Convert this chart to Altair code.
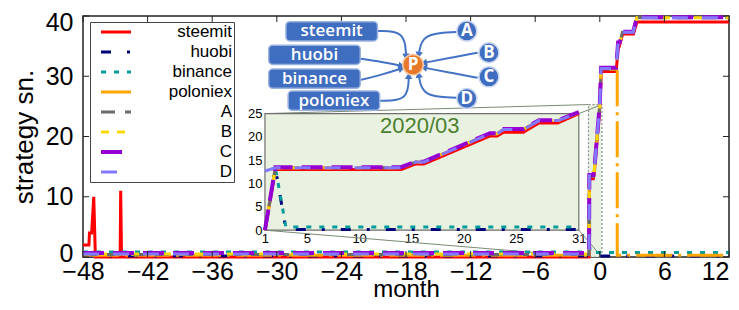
import math
import altair as alt
import pandas as pd

# ---------------- layout constants ----------------
W, H = 646, 241
X_DOMAIN = [-48, 12]
Y_DOMAIN = [0, 40]
X_TICKS = [-48, -42, -36, -30, -24, -18, -12, -6, 0, 6, 12]
Y_TICKS = [0, 10, 20, 30, 40]

SERIES = ["steemit", "huobi", "binance", "poloniex", "A", "B", "C", "D"]
COLORS = ["#ff0000", "#00007f", "#009c9c", "#ffa500", "#6b6b6b", "#ffd700", "#9400d3", "#8478ff"]
DASHES = [[1, 0], [10, 16, 3, 16], [5, 8], [36, 6, 3, 6], [14, 10], [8, 8], [21, 9], [16, 14]]
WIDTHS = [3, 3, 3, 3, 3, 3, 4, 3]

# ---------------- main series (month, strategy sn.) ----------------
STEEMIT_M = [-48, -47.45, -47.4, -47.2, -47.0, -46.85, -44.55, -44.5, -44.42, -1.0, -0.96, -0.6, -0.5, 0.0, 0.14, 1.52, 1.72, 1.82, 2.12, 3.12, 3.45, 12]
STEEMIT_V = [2, 2, 4, 4, 10, 0, 0, 11, 0, 0, 13.0, 13.0, 14.2, 25.0, 30.8, 30.8, 35.0, 35.0, 37.0, 37.0, 39.0, 39.0]
HUOBI_M = [-48, -1.0, -0.97, -0.94, 12]
HUOBI_V = [0.15, 0.15, 13.3, 0.15, 0.15]
BINANCE_M = [-48, -1.0, -0.97, -0.94, 12]
BINANCE_V = [0.85, 0.85, 13.3, 0.75, 0.75]
POLONIEX_M = [-48, -1.0, -0.97, -0.58, -0.5, 0.0, 0.12, 1.62, 1.62, 12]
POLONIEX_V = [0.3, 0.3, 13.4, 13.4, 14.6, 25.3, 31.2, 31.2, 0.3, 0.3]
A_M = [-48, -1.0, -0.97, -0.58, -0.5, 0.0, 0.12, 1.52, 1.7, 1.85, 2.1, 3.1, 3.45, 12]
A_V = [0.4, 0.4, 13.4, 13.4, 14.6, 25.3, 31.2, 31.2, 35.5, 35.5, 37.3, 37.3, 39.7, 39.7]
B_M = [-48, -1.0, -0.97, -0.58, -0.5, 0.0, 0.12, 1.52, 1.7, 1.85, 2.1, 3.1, 3.45, 12]
B_V = [0.5, 0.5, 13.4, 13.4, 14.6, 25.3, 31.2, 31.2, 35.5, 35.5, 37.3, 37.3, 39.7, 39.7]
C_M = [-48, -1.0, -0.97, -0.58, -0.5, 0.0, 0.12, 1.52, 1.7, 1.85, 2.1, 3.1, 3.45, 12]
C_V = [0.65, 0.65, 13.6, 13.6, 14.8, 25.4, 31.4, 31.4, 35.6, 35.6, 37.4, 37.4, 39.8, 39.8]
D_M = [-48, -1.0, -0.97, -0.58, -0.5, 0.0, 0.12, 1.52, 1.7, 1.85, 2.1, 3.1, 3.45, 12]
D_V = [0.5, 0.5, 13.5, 13.5, 14.7, 25.3, 31.3, 31.3, 35.5, 35.5, 37.3, 37.3, 39.7, 39.7]

MAIN = {
    "steemit": (STEEMIT_M, STEEMIT_V), "huobi": (HUOBI_M, HUOBI_V),
    "binance": (BINANCE_M, BINANCE_V), "poloniex": (POLONIEX_M, POLONIEX_V),
    "A": (A_M, A_V), "B": (B_M, B_V), "C": (C_M, C_V), "D": (D_M, D_V),
}

# ---------------- inset series (day of 2020/03, strategy sn.) ----------------
INSET_DAYS = [1, 2, 14, 15.4, 16.2, 22.5, 23.2, 23.8, 25.7, 27.2, 29, 31]
IN_STEEMIT = [0, 13.0, 13.0, 14.2, 14.2, 20.2, 20.2, 21.0, 21.0, 23.0, 23.0, 25.0]
IN_POLONIEX = [0, 13.4, 13.4, 14.6, 14.6, 20.7, 20.7, 21.6, 21.6, 23.5, 23.5, 25.2]
IN_A = [0, 13.4, 13.4, 14.6, 14.6, 20.7, 20.7, 21.6, 21.6, 23.5, 23.5, 25.2]
IN_B = [0, 13.4, 13.4, 14.6, 14.6, 20.7, 20.7, 21.6, 21.6, 23.5, 23.5, 25.2]
IN_C = [0, 13.5, 13.5, 14.7, 14.7, 20.8, 20.8, 21.7, 21.7, 23.6, 23.6, 25.3]
IN_D = [12.7, 13.4, 13.4, 14.6, 14.6, 20.7, 20.7, 21.6, 21.6, 23.5, 23.5, 25.2]
IN_EX_DAYS = [1, 2, 3, 31]
IN_HUOBI = [0, 13.3, 0.15, 0.15]
IN_BINANCE = [0, 13.3, 0.7, 0.7]

INSET = {
    "steemit": (INSET_DAYS, IN_STEEMIT), "huobi": (IN_EX_DAYS, IN_HUOBI),
    "binance": (IN_EX_DAYS, IN_BINANCE), "poloniex": (INSET_DAYS, IN_POLONIEX),
    "A": (INSET_DAYS, IN_A), "B": (INSET_DAYS, IN_B), "C": (INSET_DAYS, IN_C), "D": (INSET_DAYS, IN_D),
}
INSET_X_DOMAIN = [1, 31]
INSET_Y_DOMAIN = [0, 25]
INSET_X_TICKS = [1, 5, 10, 15, 20, 25, 31]
INSET_Y_TICKS = [0, 5, 10, 15, 20, 25]
INSET_TITLE = "2020/03"

# inset placement (in main-axis units) and the zoomed window
INSET_M = [-31.1, -1.95]
INSET_V = [4.45, 23.8]
ZOOM_M = [-1.05, 0.2]
ZOOM_V = [0, 25.3]

# ---------------- diagram (positions in main-axis units) ----------------
BOX_LABELS = ["steemit", "huobi", "binance", "poloniex"]
BOX_M = [-24.9, -26.5, -26.5, -24.7]
BOX_V = [37.45, 33.55, 29.6, 25.95]
BOX_HALF_M, BOX_HALF_V = 4.25, 1.6
NODE_LABELS = ["A", "B", "C", "D"]
NODE_M = [-12.35, -10.3, -10.3, -12.35]
NODE_V = [37.5, 33.9, 29.9, 26.3]
HUB_LABEL, HUB_M, HUB_V = "P", -17.35, 31.9
ARROWS = [  # start, bend, end
    [(-20.6, 37.5), (-18.1, 37.5), (-18.0, 33.4)],
    [(-22.2, 32.9), (-20.25, 32.4), (-18.5, 31.75)],
    [(-22.2, 29.4), (-20.25, 30.25), (-18.5, 31.25)],
    [(-20.4, 25.95), (-17.8, 25.95), (-17.75, 29.9)],
    [(-13.3, 37.35), (-16.5, 37.1), (-16.8, 33.7)],
    [(-11.35, 33.9), (-13.9, 33.05), (-16.25, 32.25)],
    [(-11.35, 29.75), (-13.9, 30.6), (-16.25, 31.4)],
    [(-13.3, 26.45), (-16.5, 26.6), (-16.8, 30.1)],
]


def px_x(m):
    return (m - X_DOMAIN[0]) / (X_DOMAIN[1] - X_DOMAIN[0]) * W


def px_y(v):
    return H - (v - Y_DOMAIN[0]) / (Y_DOMAIN[1] - Y_DOMAIN[0]) * H


FONT = "Liberation Sans"

# ---------------- encodings ----------------
XS = alt.Scale(domain=X_DOMAIN, nice=False, zero=False)
YS = alt.Scale(domain=Y_DOMAIN, nice=False, zero=False)
XAXIS = alt.Axis(values=X_TICKS, title="month", ticks=False, domain=False, grid=False,
                 labelFlush=False, labelFontSize=25, titleFontSize=24, labelPadding=2,
                 titlePadding=-7, labelFont=FONT, titleFont=FONT, titleFontWeight="normal",
                 labelColor="black", titleColor="black",
                 labelAlign={"condition": {"test": "datum.value == 12", "value": "right"}, "value": "center"})
YAXIS = alt.Axis(values=Y_TICKS, title="strategy sn.", ticks=False, domain=False, grid=False,
                 labelFontSize=25, titleFontSize=26, labelPadding=10, titlePadding=8,
                 labelFont=FONT, titleFont=FONT, titleFontWeight="normal",
                 labelColor="black", titleColor="black",
                 labelOffset={"condition": [{"test": "datum.value == 40", "value": 6},
                                            {"test": "datum.value == 0", "value": -4}], "value": 0})


def mx(f):
    return alt.X(f, type="quantitative", scale=XS, axis=XAXIS)


def my(f):
    return alt.Y(f, type="quantitative", scale=YS, axis=YAXIS)


IXS = alt.Scale(domain=INSET_X_DOMAIN, range=[px_x(INSET_M[0]), px_x(INSET_M[1])], nice=False, zero=False)
IYS = alt.Scale(domain=INSET_Y_DOMAIN, range=[px_y(INSET_V[0]), px_y(INSET_V[1])], nice=False, zero=False)
IXAXIS = alt.Axis(values=INSET_X_TICKS, orient="bottom", offset=px_y(INSET_V[0]) - H, title=None,
                  ticks=False, domain=False, grid=False, labelFlush=False, labelFontSize=13,
                  labelPadding=2, labelFont=FONT, labelColor="black")
IYAXIS = alt.Axis(values=INSET_Y_TICKS, orient="left", offset=-px_x(INSET_M[0]), title=None,
                  ticks=False, domain=False, grid=False, labelFontSize=13, labelPadding=3,
                  labelFont=FONT, labelColor="black")


def ix(f):
    return alt.X(f, type="quantitative", scale=IXS, axis=IXAXIS)


def iy(f):
    return alt.Y(f, type="quantitative", scale=IYS, axis=IYAXIS)


LEG = alt.Legend(orient="none", legendX=7, legendY=6, title=None, symbolType="stroke",
                 symbolSize=900, symbolOffset=7, labelFontSize=17, labelFont=FONT,
                 labelAlign="right", labelOffset=99, labelColor="black", padding=2,
                 rowPadding=3, clipHeight=16, strokeColor="#444", fillColor="white")
COLOR = alt.Color("series:N", scale=alt.Scale(domain=SERIES, range=COLORS), legend=LEG)
DASH = alt.StrokeDash("series:N", scale=alt.Scale(domain=SERIES, range=DASHES), legend=LEG)
SW = alt.StrokeWidth("series:N", scale=alt.Scale(type="ordinal", domain=SERIES, range=WIDTHS), legend=LEG)

# ---------------- data frames ----------------
rows = []
for s in SERIES:
    ms, vs = MAIN[s]
    for i, (m, v) in enumerate(zip(ms, vs)):
        rows.append({"series": s, "month": m, "value": v, "idx": i})
df_main = pd.DataFrame(rows)

rows = []
for s in SERIES:
    ds, vs = INSET[s]
    for i, (d, v) in enumerate(zip(ds, vs)):
        rows.append({"series": s, "day": d, "value": v, "idx": i})
df_inset = pd.DataFrame(rows)

df_zoom = pd.DataFrame([{"m0": ZOOM_M[0], "m1": ZOOM_M[1], "v0": ZOOM_V[0], "v1": ZOOM_V[1]}])
corners = [((INSET_M[0], INSET_V[1]), (ZOOM_M[0], ZOOM_V[1])),
           ((INSET_M[1], INSET_V[1]), (ZOOM_M[1], ZOOM_V[1])),
           ((INSET_M[0], INSET_V[0]), (ZOOM_M[0], ZOOM_V[0])),
           ((INSET_M[1], INSET_V[0]), (ZOOM_M[1], ZOOM_V[0]))]
rows = []
for k, (a, b) in enumerate(corners):
    rows.append({"cid": k, "o": 0, "month": a[0], "value": a[1]})
    rows.append({"cid": k, "o": 1, "month": b[0], "value": b[1]})
df_conn = pd.DataFrame(rows)

df_xt = pd.DataFrame({"month": X_TICKS})
df_yt = pd.DataFrame({"value": Y_TICKS})

df_boxes = pd.DataFrame({"label": BOX_LABELS, "month": BOX_M, "value": BOX_V})
df_boxes["m0"] = df_boxes["month"] - BOX_HALF_M
df_boxes["m1"] = df_boxes["month"] + BOX_HALF_M
df_boxes["v0"] = df_boxes["value"] - BOX_HALF_V
df_boxes["v1"] = df_boxes["value"] + BOX_HALF_V
df_nodes = pd.DataFrame({"label": NODE_LABELS, "month": NODE_M, "value": NODE_V})
df_hub = pd.DataFrame({"label": [HUB_LABEL], "month": [HUB_M], "value": [HUB_V]})

rows, heads = [], []
for k, pts in enumerate(ARROWS):
    for i, (m, v) in enumerate(pts):
        rows.append({"aid": k, "o": i, "month": m, "value": v})
    (mc, vc), (me, ve) = pts[1], pts[2]
    dxp = (me - mc) * W / (X_DOMAIN[1] - X_DOMAIN[0])
    dyp = -(ve - vc) * H / (Y_DOMAIN[1] - Y_DOMAIN[0])
    ang = math.degrees(math.atan2(dxp, -dyp)) % 360
    heads.append({"month": me, "value": ve, "ang": ang})
df_arrows = pd.DataFrame(rows)
df_heads = pd.DataFrame(heads)

# ---------------- main layer ----------------
zoom_rect = alt.Chart(df_zoom).mark_rect(fill="#e9f2e1", stroke="#8c8c8c", strokeDash=[2, 2],
                                          strokeWidth=1.2).encode(x=mx("m0"), x2="m1", y=my("v0"), y2="v1")
connectors = alt.Chart(df_conn).mark_line(color="#7b8a72", strokeWidth=1).encode(
    x=mx("month"), y=my("value"), detail="cid:N", order="o:Q")
lines = alt.Chart(df_main).mark_line(strokeCap="butt").encode(
    x=mx("month"), y=my("value"), color=COLOR, strokeDash=DASH, strokeWidth=SW, order="idx:Q")
tick_len = 6
ticks_top = alt.Chart(df_xt).mark_rule(color="#222", strokeWidth=1).encode(
    x=mx("month"), y=alt.value(0), y2=alt.value(tick_len))
ticks_bot = alt.Chart(df_xt).mark_rule(color="#222", strokeWidth=1).encode(
    x=mx("month"), y=alt.value(H - tick_len), y2=alt.value(H))
ticks_left = alt.Chart(df_yt).mark_rule(color="#222", strokeWidth=1).encode(
    y=my("value"), x=alt.value(0), x2=alt.value(tick_len))
ticks_right = alt.Chart(df_yt).mark_rule(color="#222", strokeWidth=1).encode(
    y=my("value"), x=alt.value(W - tick_len), x2=alt.value(W))

BLUE = "#4472c4"
arrows = alt.Chart(df_arrows).mark_line(color=BLUE, strokeWidth=2, interpolate="basis").encode(
    x=mx("month"), y=my("value"), detail="aid:N", order="o:Q")
heads_l = alt.Chart(df_heads).mark_point(shape="triangle", filled=True, color=BLUE, size=55, opacity=1).encode(
    x=mx("month"), y=my("value"), angle=alt.Angle("ang:Q", scale=None))
boxes = alt.Chart(df_boxes).mark_rect(cornerRadius=4, fill="#3f6dbf", stroke="#9ab2e0", strokeWidth=1.5).encode(
    x=mx("m0"), x2="m1", y=my("v0"), y2="v1")
box_text = alt.Chart(df_boxes).mark_text(color="white", fontSize=17, font="Open Sans", fontWeight=600).encode(
    x=mx("month"), y=my("value"), text="label:N")
nodes = alt.Chart(df_nodes).mark_circle(size=400, color="#3f6dbf", opacity=1, stroke="#c9d6f0", strokeWidth=1.5).encode(
    x=mx("month"), y=my("value"))
node_text = alt.Chart(df_nodes).mark_text(color="white", fontSize=17, font="Open Sans", fontWeight="bold").encode(
    x=mx("month"), y=my("value"), text="label:N")
hub = alt.Chart(df_hub).mark_circle(size=420, color="#e8782a", opacity=1, stroke="#f6c9a6", strokeWidth=1.5).encode(
    x=mx("month"), y=my("value"))
hub_text = alt.Chart(df_hub).mark_text(color="white", fontSize=17, font="Open Sans", fontWeight="bold").encode(
    x=mx("month"), y=my("value"), text="label:N")

main = alt.layer(zoom_rect, connectors, lines, ticks_top, ticks_bot, ticks_left, ticks_right,
                 arrows, heads_l, boxes, box_text, nodes, node_text, hub, hub_text)

# ---------------- inset layer ----------------
df_ibg = pd.DataFrame([{"d0": INSET_X_DOMAIN[0], "d1": INSET_X_DOMAIN[1],
                        "w0": INSET_Y_DOMAIN[0], "w1": INSET_Y_DOMAIN[1]}])
inset_bg = alt.Chart(df_ibg).mark_rect(fill="#e9f2e1", stroke="#6f6f6f", strokeWidth=1.2).encode(
    x=ix("d0"), x2="d1", y=iy("w0"), y2="w1")
inset_lines = alt.Chart(df_inset).mark_line(strokeCap="butt").encode(
    x=ix("day"), y=iy("value"), color=COLOR, strokeDash=DASH, strokeWidth=SW, order="idx:Q")
df_ititle = pd.DataFrame([{"day": 15.8, "value": 22.4, "t": INSET_TITLE}])
inset_title = alt.Chart(df_ititle).mark_text(color="#4a8030", fontSize=22, font=FONT).encode(
    x=ix("day"), y=iy("value"), text="t:N")
inset = alt.layer(inset_bg, inset_lines, inset_title)

chart = alt.layer(main, inset).resolve_scale(x="independent", y="independent").properties(
    width=W, height=H,
    autosize=alt.AutoSizeParams(type="none"),
    padding={"left": 75, "top": 8, "right": 2, "bottom": 45},
).configure(font=FONT).configure_view(stroke="#222", strokeWidth=1.5)

chart.save("out.html", embed_options={"renderer": "svg", "actions": False})
